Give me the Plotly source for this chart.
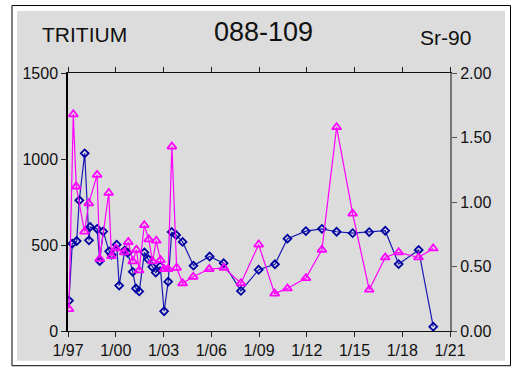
import plotly.graph_objects as go

# ---- data ----
tritium_dates = ["1997-01-24", "1997-04-09", "1997-07-19", "1997-09-17", "1998-01-19", "1998-04-27",
                 "1998-05-24", "1998-10-31", "1998-12-30", "1999-03-20", "1999-08-03", "1999-09-29",
                 "2000-01-24", "2000-03-20", "2000-07-26", "2000-10-01", "2001-01-26", "2001-04-09",
                 "2001-06-24", "2001-10-21", "2002-01-17", "2002-04-18", "2002-07-07", "2002-10-19",
                 "2003-01-16", "2003-04-19", "2003-07-08", "2003-10-18", "2004-03-16", "2004-11-19",
                 "2005-11-25", "2006-10-12", "2007-11-13", "2008-12-24", "2010-01-02", "2010-10-16",
                 "2011-12-13", "2012-12-15", "2013-11-17", "2014-11-20", "2015-12-05", "2016-12-07",
                 "2017-10-11", "2019-01-12", "2019-12-13"]
tritium_values = [177, 508, 523, 760, 1033, 527, 605, 594, 407, 579, 463, 443,
                  502, 264, 469, 455, 344, 247, 230, 457, 417, 373, 340, 376,
                  115, 287, 576, 558, 518, 380, 433, 394, 233, 356, 388, 537,
                  581, 594, 577, 569, 575, 583, 389, 471, 25]

sr90_dates = ["1997-01-24", "1997-05-02", "1997-07-09", "1998-01-14", "1998-04-22", "1998-10-31",
              "1998-12-30", "1999-07-25", "1999-09-25", "2000-01-06", "2000-07-14", "2000-10-15",
              "2001-01-26", "2001-04-21", "2001-06-22", "2001-10-17", "2002-01-28", "2002-04-23",
              "2002-07-19", "2002-10-23", "2003-01-16", "2003-04-19", "2003-07-13", "2003-10-30",
              "2004-03-16", "2004-11-14", "2005-11-16", "2006-10-19", "2007-11-13", "2008-12-24",
              "2009-12-26", "2010-10-16", "2011-12-13", "2012-12-15", "2013-11-17", "2014-11-20",
              "2015-12-05", "2016-12-07", "2017-10-11", "2019-01-08", "2019-12-13"]
sr90_values = [0.17, 1.68, 1.12, 0.77, 0.99, 1.21, 0.56, 1.07, 0.58, 0.64, 0.61, 0.69,
               0.54, 0.63, 0.47, 0.82, 0.71, 0.54, 0.70, 0.55, 0.48, 0.48, 1.43, 0.49,
               0.37, 0.42, 0.48, 0.49, 0.37, 0.67, 0.29, 0.33, 0.41, 0.63, 1.58, 0.91,
               0.32, 0.57, 0.61, 0.57, 0.64]

x_tick_vals = ["1997-01-01", "2000-01-01", "2003-01-01", "2006-01-01", "2009-01-01",
               "2012-01-01", "2015-01-01", "2018-01-01", "2021-01-01"]
x_tick_text = ["1/97", "1/00", "1/03", "1/06", "1/09", "1/12", "1/15", "1/18", "1/21"]
left_tick_vals = [0, 500, 1000, 1500]
left_tick_text = ["0", "500", "1000", "1500"]
right_tick_vals = [0, 0.5, 1.0, 1.5, 2.0]
right_tick_text = ["0.00", "0.50", "1.00", "1.50", "2.00"]

title_left = "TRITIUM"
title_center = "088-109"
title_right = "Sr-90"

FONT = "Liberation Sans, Arial, sans-serif"
BLUE = "#1a1ab4"
MAGENTA = "#ff00ff"

fig = go.Figure()
fig.add_trace(go.Scatter(
    x=tritium_dates, y=tritium_values, mode="lines+markers", name="Tritium",
    line=dict(color=BLUE, width=1.2),
    marker=dict(symbol="diamond-open", size=6, color="#0000a0", line=dict(width=1.8)),
    yaxis="y", xaxis="x"))
fig.add_trace(go.Scatter(
    x=sr90_dates, y=sr90_values, mode="lines+markers", name="Sr-90",
    line=dict(color=MAGENTA, width=1.2),
    marker=dict(symbol="triangle-up-open", size=8, color=MAGENTA, line=dict(width=1.8)),
    yaxis="y2", xaxis="x"))

xrange = ["1997-01-01", "2021-01-01"]
common_x = dict(range=xrange, tickvals=x_tick_vals, ticktext=x_tick_text,
                ticklen=5, tickcolor="#222", tickwidth=1, showgrid=False, zeroline=False)

layout = dict(
    width=514, height=371,
    margin=dict(l=68, r=64, t=73, b=38, pad=0),
    paper_bgcolor="white", plot_bgcolor="rgba(0,0,0,0)",
    showlegend=False,
    font=dict(family=FONT, size=16, color="#111"),
    xaxis=dict(**common_x, ticks="outside", mirror="allticks", showline=True,
               linecolor="#111", linewidth=1.2, tickfont=dict(size=16), type="date"),
    xaxis2=dict(**common_x, ticks="inside", mirror="allticks", overlaying="x", anchor="y",
                showline=False, showticklabels=False, type="date"),
    yaxis=dict(range=[0, 1500], tickvals=left_tick_vals, ticktext=left_tick_text,
               ticks="outside", ticklen=5, tickcolor="#222", showline=True, linecolor="#000",
               linewidth=1.5, showgrid=False, zeroline=False, side="left"),
    yaxis3=dict(range=[0, 1500], tickvals=left_tick_vals, ticks="inside", ticklen=5,
                tickcolor="#222", showticklabels=False, showgrid=False, zeroline=False,
                overlaying="y", side="left", showline=False),
    yaxis2=dict(range=[0, 2], tickvals=right_tick_vals, ticktext=right_tick_text,
                ticks="outside", ticklen=5, tickcolor="#555", showline=True, linecolor="#777",
                linewidth=2, showgrid=False, zeroline=False, overlaying="y", side="right"),
    yaxis4=dict(range=[0, 2], tickvals=right_tick_vals, ticks="inside", ticklen=5,
                tickcolor="#555", showticklabels=False, showgrid=False, zeroline=False,
                overlaying="y", side="right", showline=False),
)
fig.update_layout(**layout)

# background panel and frame (paper coordinates relative to plot area)
fig.add_shape(type="rect", xref="paper", yref="paper", x0=-0.1466, x1=1.1584, y0=-0.1346, y1=1.2615,
              line=dict(color="black", width=1), fillcolor="white", layer="below")
fig.add_shape(type="rect", xref="paper", yref="paper", x0=-0.1335, x1=1.144, y0=-0.1154, y1=1.240,
              line=dict(width=0), fillcolor="#dcdcdc", layer="below")

fig.add_annotation(text=title_left, xref="paper", yref="paper", x=0.0419, y=1.150,
                   showarrow=False, font=dict(size=21, family=FONT, color="#111"),
                   xanchor="center", yanchor="middle")
fig.add_annotation(text=title_center, xref="paper", yref="paper", x=0.513, y=1.158,
                   showarrow=False, font=dict(size=27, family=FONT, color="#111"),
                   xanchor="center", yanchor="middle")
fig.add_annotation(text=title_right, xref="paper", yref="paper", x=0.9895, y=1.138,
                   showarrow=False, font=dict(size=21, family=FONT, color="#111"),
                   xanchor="center", yanchor="middle")

fig.write_html("out.html", config={"displayModeBar": False},
               post_script="document.body.style.margin='0';document.body.style.overflow='hidden';")
